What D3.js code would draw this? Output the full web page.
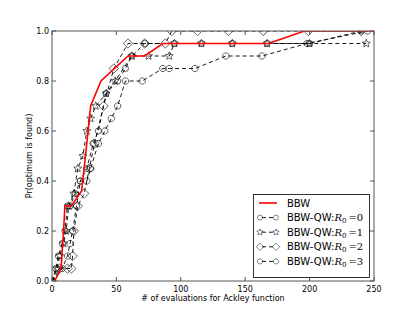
<!DOCTYPE html>
<html><head><meta charset="utf-8">
<script src="https://cdn.jsdelivr.net/npm/d3@7"></script>
<style>body{margin:0;background:#fff}svg{display:block}text{font-family:"DejaVu Sans",sans-serif}</style>
</head><body><svg id="c" width="415" height="313"></svg>
<script>
const xTicks=[0,50,100,150,200,250];
const yTicks=[0.0,0.2,0.4,0.6,0.8,1.0];
const bbwX=[2,7,9,10,15,23,26,30,38,59,72,86,168,196,250];
const bbwY=[0,0.05,0.2,0.3,0.3,0.36,0.5,0.7,0.8,0.9,0.9,0.95,0.95,1.0,1.0];
const r0X=[0,3,5,8,10,12,14,18,22,27,32,36,42,51,57,62,72,95,116,140,167,200,240];
const r0Y=[0,0.05,0.1,0.15,0.2,0.3,0.3,0.35,0.4,0.45,0.55,0.6,0.75,0.8,0.85,0.9,0.95,0.95,0.95,0.95,0.95,0.95,1.0];
const r1X=[0,4,6,9,11,13,17,20,24,27,30,34,42,49,62,75,91,95,116,140,167,200,244];
const r1Y=[0,0.05,0.1,0.15,0.2,0.3,0.35,0.45,0.5,0.6,0.65,0.7,0.75,0.8,0.9,0.9,0.9,0.95,0.95,0.95,0.95,0.95,0.95];
const r2X=[0,6,12,15,16,17,20,25,29,33,40,48,59,72,88,93,113,137,164,199,240];
const r2Y=[0,0.05,0.05,0.05,0.1,0.2,0.3,0.35,0.45,0.55,0.7,0.85,0.95,0.95,0.95,1.0,1.0,1.0,1.0,1.0,1.0];
const r3X=[0,8,12,14,16,19,22,27,30,36,41,46,51,57,70,86,91,111,135,163,198,245];
const r3Y=[0,0.05,0.1,0.15,0.2,0.3,0.4,0.4,0.45,0.55,0.6,0.65,0.7,0.8,0.8,0.85,0.85,0.85,0.9,0.9,0.95,1.0];
const legendNames=["BBW","BBW-QW:","BBW-QW:","BBW-QW:","BBW-QW:"];
const legendR=[null,"0","1","2","3"];

const svg=d3.select("#c");
const L=52,R=374,T=31,B=281;
const x=d3.scaleLinear().domain([0,250]).range([L,R]);
const y=d3.scaleLinear().domain([0,1]).range([B,T]);
const g=svg.append("g");
svg.append("clipPath").attr("id","cp").append("rect").attr("x",L).attr("y",T).attr("width",R-L).attr("height",B-T);

const line=d3.line().x(d=>x(d[0])).y(d=>y(d[1]));
const series=[
 {xs:r0X,ys:r0Y,sym:"circle"},
 {xs:r1X,ys:r1Y,sym:"star"},
 {xs:r2X,ys:r2Y,sym:"diamond"},
 {xs:r3X,ys:r3Y,sym:"oct"}];
function starPath(r){let p=[];for(let i=0;i<10;i++){const a=-Math.PI/2+i*Math.PI/5;const rr=i%2?r*0.45:r;p.push([rr*Math.cos(a),rr*Math.sin(a)]);}return "M"+p.map(q=>q[0].toFixed(2)+","+q[1].toFixed(2)).join("L")+"Z";}
function octPath(r){let p=[];for(let i=0;i<8;i++){const a=Math.PI/8+i*Math.PI/4;p.push([r*Math.cos(a),r*Math.sin(a)]);}return "M"+p.map(q=>q[0].toFixed(2)+","+q[1].toFixed(2)).join("L")+"Z";}
function markerPath(s){
 if(s==="circle") return d3.symbol(d3.symbolCircle,30)();
 if(s==="star") return starPath(4.2);
 if(s==="diamond") return "M0,-4.7L4.7,0L0,4.7L-4.7,0Z";
 return octPath(3.3);
}
const sg=g.append("g").attr("clip-path","url(#cp)");
series.forEach(s=>{
 const pts=s.xs.map((v,i)=>[v,s.ys[i]]);
 sg.append("path").datum(pts).attr("d",line).attr("fill","none").attr("stroke","#000").attr("stroke-width",0.9).attr("stroke-dasharray","4,3");
 sg.selectAll(null).data(pts).enter().append("path").attr("d",markerPath(s.sym))
  .attr("transform",d=>`translate(${x(d[0])},${y(d[1])})`).attr("fill","none").attr("stroke","#000").attr("stroke-width",0.6);
});
const bb=bbwX.map((v,i)=>[v,bbwY[i]]);
sg.append("path").datum(bb).attr("d",line).attr("fill","none").attr("stroke","#f00").attr("stroke-width",1.6);

// frame and ticks
const ax=g.append("g");
ax.append("rect").attr("x",L).attr("y",T).attr("width",R-L).attr("height",B-T).attr("fill","none").attr("stroke","#555").attr("stroke-width",1);
xTicks.forEach(t=>{
 ax.append("line").attr("x1",x(t)).attr("x2",x(t)).attr("y1",B).attr("y2",B-4).attr("stroke","#555");
 ax.append("line").attr("x1",x(t)).attr("x2",x(t)).attr("y1",T).attr("y2",T+4).attr("stroke","#555");
 ax.append("text").attr("x",x(t)).attr("y",B+11).attr("text-anchor","middle").attr("font-size",8).text(t);
});
yTicks.forEach(t=>{
 ax.append("line").attr("x1",L).attr("x2",L+4).attr("y1",y(t)).attr("y2",y(t)).attr("stroke","#555");
 ax.append("line").attr("x1",R).attr("x2",R-4).attr("y1",y(t)).attr("y2",y(t)).attr("stroke","#555");
 ax.append("text").attr("x",L-3).attr("y",y(t)+3).attr("text-anchor","end").attr("font-size",8).text(t.toFixed(1));
});
ax.append("text").attr("x",(L+R)/2).attr("y",301).attr("text-anchor","middle").attr("font-size",8).text("# of evaluations for Ackley function");
ax.append("text").attr("transform",`translate(32,${(T+B)/2}) rotate(-90)`).attr("text-anchor","middle").attr("font-size",8).text("Pr(optimum is found)");

// legend
const lg=g.append("g");
lg.append("rect").attr("x",253.5).attr("y",194.5).attr("width",116).attr("height",83).attr("fill","#fff").attr("stroke","#000").attr("stroke-width",0.8);
legendNames.forEach((n,i)=>{
 const yy=203+i*14.6;
 if(i===0){
  lg.append("line").attr("x1",259).attr("x2",277).attr("y1",yy).attr("y2",yy).attr("stroke","#f00").attr("stroke-width",1.6);
 } else {
  const s=series[i-1];
  lg.append("line").attr("x1",260).attr("x2",276).attr("y1",yy).attr("y2",yy).attr("stroke","#000").attr("stroke-width",0.9).attr("stroke-dasharray","4,3").attr("stroke-dashoffset",-2);
  [260,276].forEach(xx=>lg.append("path").attr("d",markerPath(s.sym)).attr("transform",`translate(${xx},${yy}) scale(0.8)`).attr("fill","none").attr("stroke","#000").attr("stroke-width",0.6));
 }
 const t=lg.append("text").attr("x",287).attr("y",yy+3.5).attr("font-size",10).text(n);
 if(legendR[i]!==null){
  t.append("tspan").attr("font-family","DejaVu Serif").attr("font-style","italic").text("R");
  t.append("tspan").attr("font-family","DejaVu Serif").attr("font-size",7).attr("dy",2).text("0");
  t.append("tspan").attr("font-family","DejaVu Serif").attr("dy",-2).attr("dx",2).text("="+legendR[i]);
 }
});
</script></body></html>
